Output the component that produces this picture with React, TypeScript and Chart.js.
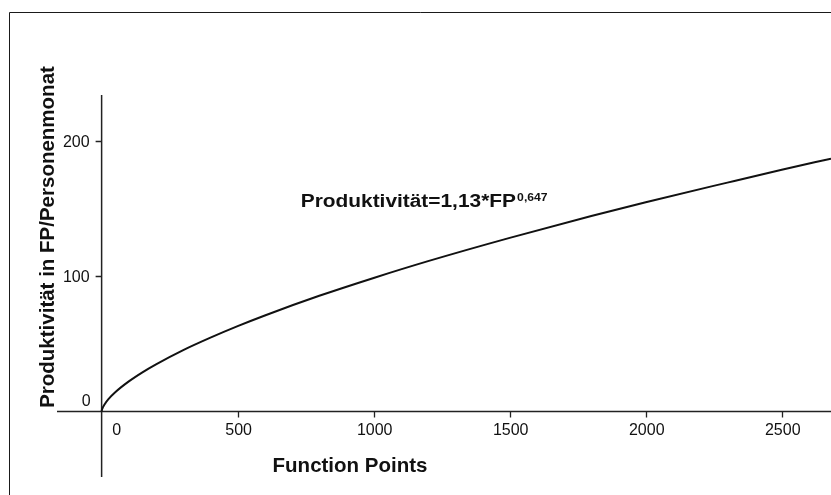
import { useEffect, useRef } from "react";
import { Chart, registerables } from "chart.js";

Chart.register(...registerables);

// ---- data ----
const fpValues = [0, 1, 2, 5, 10, 25, 50, 100, 150, 200, 300, 400, 500, 600, 800, 1000, 1200, 1500, 1800, 2000, 2300, 2500, 2681];
const productivityValues = [0, 1.1, 1.8, 3.2, 5.0, 9.1, 14.2, 22.2, 28.9, 34.8, 45.3, 54.5, 63.0, 70.9, 85.4, 98.6, 111.0, 128.2, 144.3, 154.5, 169.0, 178.5, 186.7];
const xTickValues = [0, 500, 1000, 1500, 2000, 2500];
const yTickValues = [0, 100, 200];
const xAxisTitle = "Function Points";
const yAxisTitle = "Produktivität in FP/Personenmonat";
const annotationMain = "Produktivität=1,13*FP";
const annotationExp = "0,647";

const X_MIN = -164;
const X_MAX = 2681;
const Y_MIN = -48.4;
const Y_MAX = 233.7;

const FONT = '"Liberation Sans", Arial, sans-serif';

const crossAxesPlugin = {
  id: "crossAxes",
  beforeDatasetsDraw(chart: any) {
    const ctx = chart.ctx as CanvasRenderingContext2D;
    const xs = chart.scales.x;
    const ys = chart.scales.y;
    const area = chart.chartArea;
    const x0 = xs.getPixelForValue(0);
    const y0 = ys.getPixelForValue(0);
    ctx.save();
    // outer frame
    ctx.strokeStyle = "#1a1a1a";
    ctx.lineWidth = 1;
    ctx.beginPath();
    ctx.moveTo(9.5, 495);
    ctx.lineTo(9.5, 12.5);
    ctx.lineTo(831, 12.5);
    ctx.stroke();

    // axes lines
    ctx.strokeStyle = "#222";
    ctx.lineWidth = 1.5;
    ctx.beginPath();
    ctx.moveTo(area.left, y0);
    ctx.lineTo(area.right, y0);
    ctx.moveTo(x0, area.top);
    ctx.lineTo(x0, area.bottom);
    ctx.stroke();

    // ticks
    ctx.lineWidth = 1.3;
    ctx.beginPath();
    xTickValues.forEach((v) => {
      if (v === 0) return;
      const px = Math.round(xs.getPixelForValue(v)) + 0.5;
      ctx.moveTo(px, y0);
      ctx.lineTo(px, y0 + 6);
    });
    yTickValues.forEach((v) => {
      if (v === 0) return;
      const py = Math.round(ys.getPixelForValue(v)) + 0.5;
      ctx.moveTo(x0, py);
      ctx.lineTo(x0 - 6, py);
    });
    ctx.stroke();

    // tick labels
    ctx.fillStyle = "#111";
    ctx.font = `16px ${FONT}`;
    ctx.textBaseline = "alphabetic";
    xTickValues.forEach((v) => {
      const px = xs.getPixelForValue(v);
      ctx.textAlign = "center";
      const cx = v === 0 ? px + 15 : px + 1;
      ctx.fillText(String(v), cx, y0 + 23.5);
    });
    yTickValues.forEach((v) => {
      const py = ys.getPixelForValue(v);
      ctx.textAlign = "right";
      if (v === 0) {
        ctx.fillText(String(v), x0 - 11, y0 - 5);
      } else {
        ctx.fillText(String(v), x0 - 12, py + 6);
      }
    });
    ctx.restore();
  },
  afterDraw(chart: any) {
    const ctx = chart.ctx as CanvasRenderingContext2D;
    ctx.save();
    ctx.fillStyle = "#111";
    // x axis title
    ctx.font = `bold 20.5px ${FONT}`;
    ctx.textAlign = "center";
    ctx.textBaseline = "alphabetic";
    ctx.fillText(xAxisTitle, 350, 472.3);
    // y axis title
    ctx.save();
    ctx.translate(54, 237);
    ctx.rotate(-Math.PI / 2);
    ctx.fillText(yAxisTitle, 0, 0);
    ctx.restore();
    // formula annotation (slightly wide, as in the reference)
    ctx.save();
    ctx.textAlign = "left";
    ctx.translate(300.7, 207.3);
    ctx.scale(1.16, 1);
    ctx.font = `bold 18px ${FONT}`;
    ctx.fillText(annotationMain, 0, 0);
    const w = ctx.measureText(annotationMain).width;
    ctx.font = `bold 10.5px ${FONT}`;
    ctx.fillText(annotationExp, w + 1, -6.8);
    ctx.restore();
    ctx.restore();
  },
};

export default function App() {
  const canvasRef = useRef<HTMLCanvasElement | null>(null);

  useEffect(() => {
    if (!canvasRef.current) return;
    const points = fpValues.map((x, i) => ({ x, y: productivityValues[i] }));
    const chart = new Chart(canvasRef.current, {
      type: "line",
      data: {
        datasets: [
          {
            data: points,
            borderColor: "#111",
            borderWidth: 2,
            pointRadius: 0,
            fill: false,
            cubicInterpolationMode: "monotone",
          } as any,
        ],
      },
      options: {
        animation: false,
        responsive: false,
        maintainAspectRatio: false,
        devicePixelRatio: 1,
        layout: { padding: { left: 57, top: 95, right: 0, bottom: 18 } },
        plugins: { legend: { display: false }, tooltip: { enabled: false } },
        scales: {
          x: { type: "linear", display: false, min: X_MIN, max: X_MAX },
          y: { type: "linear", display: false, min: Y_MIN, max: Y_MAX },
        },
      },
      plugins: [crossAxesPlugin],
    });
    return () => chart.destroy();
  }, []);

  return (
    <div style={{ position: "fixed", left: 0, top: 0, width: 831, height: 495, background: "#fff" }}>
      <canvas ref={canvasRef} width={831} height={495} style={{ display: "block" }} />
    </div>
  );
}
